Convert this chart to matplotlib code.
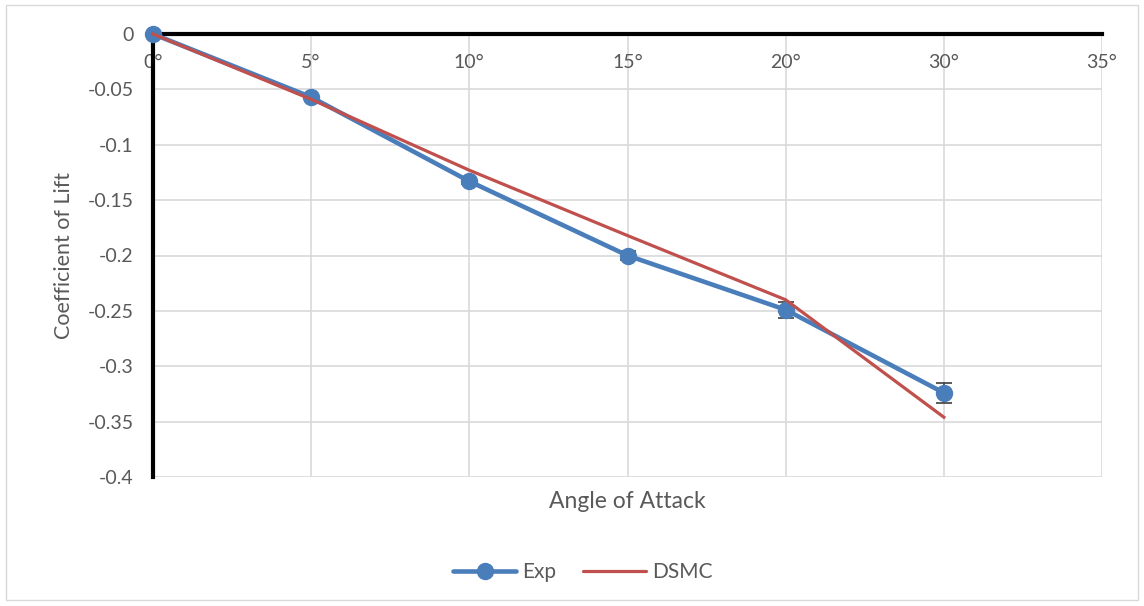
import matplotlib
matplotlib.use("Agg")
import matplotlib.pyplot as plt
from matplotlib.patches import Rectangle
from matplotlib.lines import Line2D

categories = ["0°", "5°", "10°", "15°", "20°", "30°", "35°"]
exp_vals = [0, -0.057, -0.133, -0.200, -0.249, -0.324]
exp_err = [0, 0.002, 0.002, 0.004, 0.007, 0.009]
dsmc_vals = [0, -0.059, -0.123, -0.182, -0.240, -0.346]
y_ticks = [0, -0.05, -0.1, -0.15, -0.2, -0.25, -0.3, -0.35, -0.4]
y_labels = ["0", "-0.05", "-0.1", "-0.15", "-0.2", "-0.25", "-0.3", "-0.35", "-0.4"]

plt.rcParams['font.family'] = ['Lato', 'DejaVu Sans']
txt = '#595959'
blue = '#4a7ebb'
red = '#c0504d'

fig = plt.figure(figsize=(11.44, 6.06), dpi=100)
fig.patches.append(Rectangle((6/1144, 1-600/606), 1132/1144, 595/606, transform=fig.transFigure,
                             fill=False, edgecolor='#d9d9d9', lw=1))
ax = fig.add_axes([153/1144, 1-477/606, (1102-153)/1144, (477-34)/606])

x = list(range(len(exp_vals)))
ax.errorbar(x, exp_vals, yerr=exp_err, color=blue, lw=3.3, marker='o', ms=11.5,
            ecolor='#404040', elinewidth=1.2, capsize=6, capthick=1.2, zorder=4, clip_on=False)
ax.plot(x, dsmc_vals, color=red, lw=2.3, zorder=5, clip_on=False)

ax.set_xlim(0, len(categories) - 1)
ax.set_ylim(-0.4, 0)
ax.set_xticks(range(len(categories)))
ax.set_xticklabels(categories)
ax.set_yticks(y_ticks)
ax.set_yticklabels(y_labels)
ax.grid(True, color='#d9d9d9', lw=1.2, zorder=0)
ax.set_axisbelow(True)

for s in ['right', 'bottom']:
    ax.spines[s].set_visible(False)
ax.spines['top'].set_color('black')
ax.spines['top'].set_linewidth(3)
ax.spines['left'].set_color('black')
ax.spines['left'].set_linewidth(3)
ax.spines['top'].set_zorder(2)
ax.spines['left'].set_zorder(2)

ax.tick_params(axis='x', top=False, bottom=False, labeltop=True, labelbottom=False,
               length=0, pad=-27, labelsize=14, labelcolor=txt)
ax.tick_params(axis='y', length=0, pad=14, labelsize=14, labelcolor=txt)

ax.set_xlabel('Angle of Attack', fontsize=16.5, color=txt, labelpad=10)
ax.set_ylabel('Coefficient of Lift', fontsize=15.5, color=txt, labelpad=10)

handles = [Line2D([], [], color=blue, lw=3.3, marker='o', ms=11.5, solid_capstyle='round'),
           Line2D([], [], color=red, lw=2.3, solid_capstyle='round')]
leg = fig.legend(handles, ['Exp', 'DSMC'], loc='center',
                 bbox_to_anchor=(583/1144, 1-572/606), ncol=2, frameon=False,
                 fontsize=15, handlelength=3.0, columnspacing=1.3, handletextpad=0.3)
for t in leg.get_texts():
    t.set_color(txt)

fig.savefig('out.png', dpi=100)
